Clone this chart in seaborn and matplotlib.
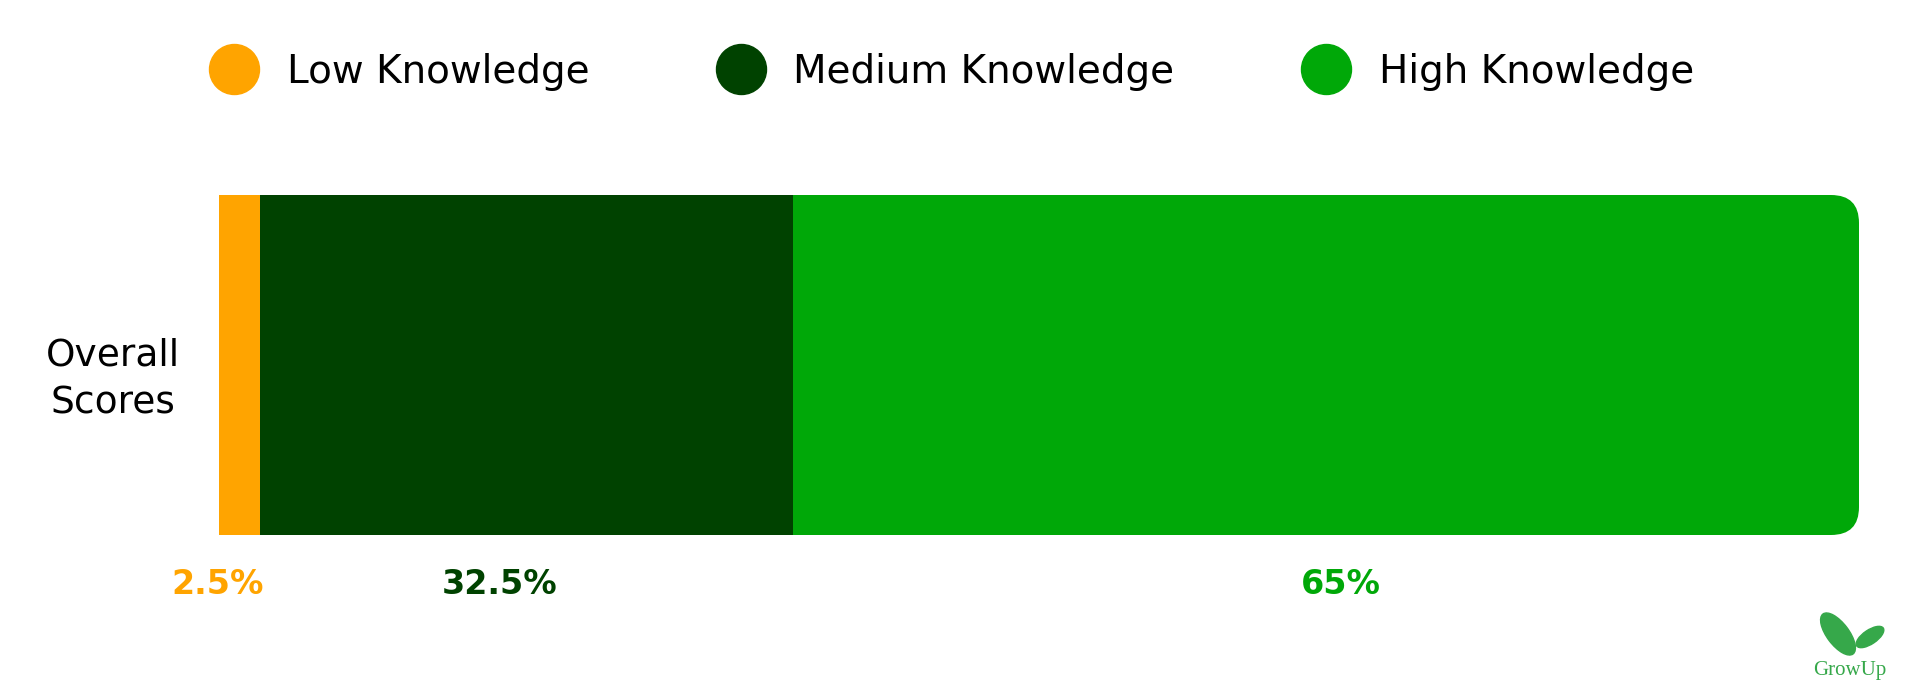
import matplotlib
matplotlib.use("Agg")
import matplotlib.pyplot as plt
from matplotlib.patches import FancyBboxPatch, Ellipse
from matplotlib.lines import Line2D
import matplotlib.transforms as mtransforms
import pandas as pd
import seaborn as sns

# data
categories = ["Low Knowledge", "Medium Knowledge", "High Knowledge"]
values = [2.5, 32.5, 65]
value_labels = ["2.5%", "32.5%", "65%"]
row_label = "Overall\nScores"
colors = ["#FFA400", "#004200", "#00A808"]

sns.set_theme(style="white")
plt.rcParams["font.family"] = ["DejaVu Sans"]
plt.rcParams["text.color"] = "black"
plt.rcParams["ytick.color"] = "black"

df = pd.DataFrame({"group": categories, "value": values, "row": [row_label] * 3})
df["cum"] = df["value"].cumsum()

fig = plt.figure(figsize=(19.2, 7), dpi=100)
ax = fig.add_axes([219 / 1920, 1 - 535 / 700, 1640 / 1920, 340 / 700])

# stacked bar: draw cumulative totals from the largest down
for i in reversed(range(len(df))):
    sns.barplot(data=df.iloc[[i]], x="cum", y="row", color=colors[i],
                width=1.0, saturation=1, ax=ax, linewidth=0)

ax.set_xlim(0, 100)
ax.set_ylim(0.5, -0.5)

# round the right end of the last segment
top_patch = ax.patches[0]
x0, y0 = top_patch.get_x(), top_patch.get_y()
w, h = top_patch.get_width(), top_patch.get_height()
top_patch.set_visible(False)
r_px = 28
r_x = r_px * 100 / 1640
aspect = (1.0 / 340) / (100 / 1640)
rounded = FancyBboxPatch((x0, y0), w, h,
                         boxstyle=f"round,pad=0,rounding_size={r_x}",
                         mutation_aspect=aspect, facecolor=colors[2],
                         edgecolor="none", zorder=0.5)
ax.add_patch(rounded)

for s in ax.spines.values():
    s.set_visible(False)
ax.set_xticks([])
ax.set_xlabel("")
ax.set_ylabel("")
ax.tick_params(axis="y", length=0, pad=28, labelsize=27)
shift = mtransforms.ScaledTranslation(0, -0.05, fig.dpi_scale_trans)
for t in ax.get_yticklabels():
    t.set_multialignment("center")
    t.set_linespacing(1.4)
    t.set_transform(t.get_transform() + shift)

# percentage labels under the bar
label_x = [-0.1, 17.1, 68.4]
trans = mtransforms.blended_transform_factory(ax.transData, ax.transAxes)
for lx, txt, c in zip(label_x, value_labels, colors):
    ax.text(lx, -0.145, txt, transform=trans, ha="center", va="center",
            fontsize=24, fontweight="bold", color=c)

# legend with round markers
handles = [Line2D([], [], marker="o", linestyle="none", markersize=36,
                  markerfacecolor=c, markeredgecolor=c) for c in colors]
fig.legend(handles, categories, loc="center", bbox_to_anchor=(0.497, 0.897),
           ncol=3, frameon=False, fontsize=28, handlelength=1.0,
           handletextpad=0.85, columnspacing=3.4)

# logo
px = mtransforms.IdentityTransform()
logo_green = "#36A84A"
fig.add_artist(Ellipse((1838, 66), 50, 22, angle=127, transform=px,
                       color=logo_green))
fig.add_artist(Ellipse((1870, 63), 32, 14, angle=34, transform=px,
                       color=logo_green))
fig.text(1850 / 1920, 1 - 670 / 700, "GrowUp", ha="center", va="center",
         fontsize=15, color=logo_green, family="Liberation Serif")

fig.savefig("out.png", dpi=100)
